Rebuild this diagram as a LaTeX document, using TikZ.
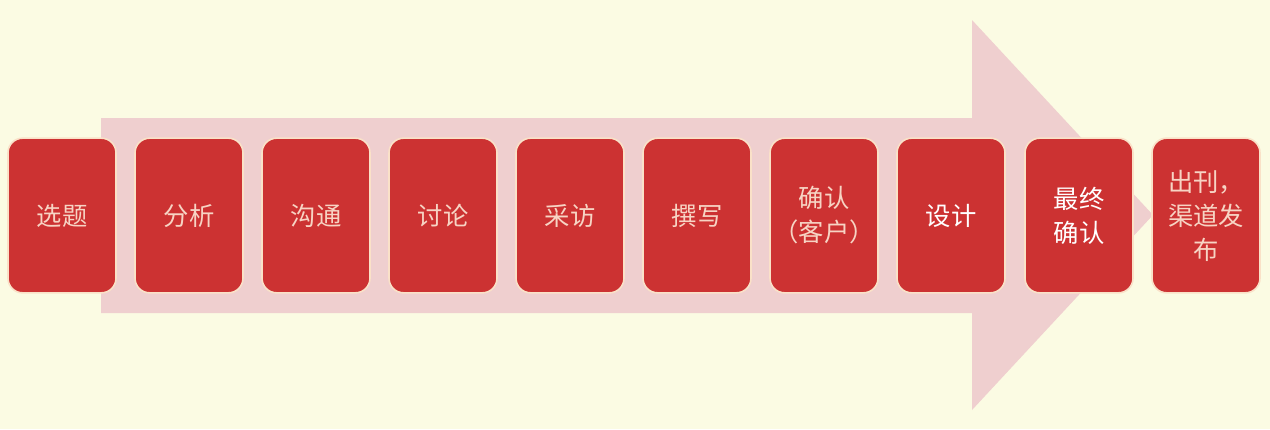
\documentclass[tikz,border=0pt]{standalone}
\usepackage{fontspec}
\newfontfamily\cjk{Noto Sans CJK SC}
\definecolor{bgcream}{RGB}{251,251,227}
\definecolor{arrowpink}{RGB}{239,207,207}
\definecolor{boxred}{RGB}{204,50,50}
\definecolor{rimcream}{RGB}{250,225,200}
\definecolor{txtpink}{RGB}{247,212,196}

\begin{document}
\begin{tikzpicture}[x=0.75pt,y=0.75pt,yscale=-1,xscale=1,
    stepbox/.style={draw=rimcream,line width=1.2pt,fill=boxred,rounded corners=11pt,
      minimum width=81pt,minimum height=116pt,inner sep=0pt,align=center,
      text=txtpink,font=\cjk\fontsize{19}{25.5}\selectfont},
    lastbox/.style={stepbox,text=white}]
      \fill [bgcream] (0,0) rectangle (1270,429) ;
      % big arrow behind the steps
      \fill [arrowpink] (101,118) -- (972,118) -- (972,20) -- (1153,215) -- (972,410) -- (972,313) -- (101,313) -- cycle ;
      \node [stepbox] (xuanti) at (62,215.5) {选题};
      \node [stepbox] (fenxi) at (189,215.5) {分析};
      \node [stepbox] (goutong) at (316,215.5) {沟通};
      \node [stepbox] (taolun) at (443,215.5) {讨论};
      \node [stepbox] (caifang) at (570,215.5) {采访};
      \node [stepbox] (zhuanxie) at (697,215.5) {撰写};
      \node [stepbox] (queren) at (824,215.5) {确认\\（客户）};
      \node [lastbox] (sheji) at (951,215.5) {设计};
      \node [lastbox] (zuizhong) at (1079,215.5) {最终\\确认};
      \node [stepbox] (chukan) at (1206,215.5) {出刊，\\渠道发\\布};
\end{tikzpicture}
\end{document}
